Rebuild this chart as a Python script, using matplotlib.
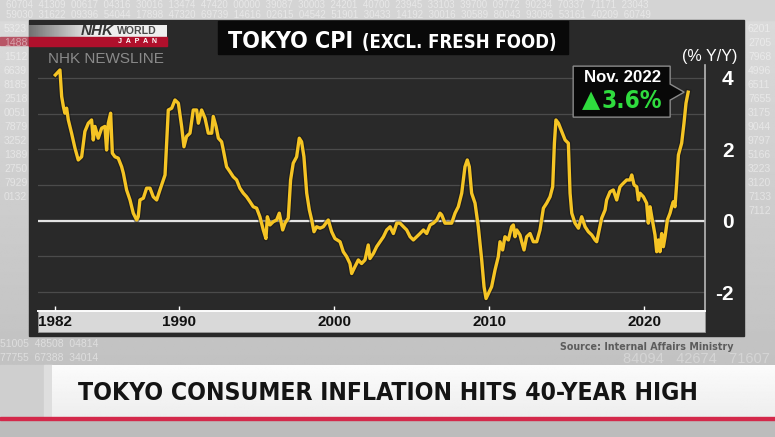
import numpy as np
import matplotlib
matplotlib.use('Agg')
import matplotlib.pyplot as plt
from matplotlib import font_manager as fm
from matplotlib.patches import Rectangle, Polygon
from matplotlib.ticker import MultipleLocator
import matplotlib.patheffects as pe

# Tokyo CPI excl. fresh food, % Y/Y
years = [1982.00, 1982.30, 1982.41, 1982.52, 1982.62, 1982.73, 1982.84, 1983.05, 1983.27, 1983.48,
         1983.70, 1983.91, 1984.13, 1984.34, 1984.45, 1984.56, 1984.77, 1984.99, 1985.20, 1985.31,
         1985.42, 1985.57, 1985.68, 1985.85, 1986.06, 1986.28, 1986.39, 1986.60, 1986.82, 1987.03,
         1987.25, 1987.35, 1987.46, 1987.68, 1987.89, 1988.11, 1988.32, 1988.54, 1988.75, 1988.97,
         1989.08, 1989.18, 1989.29, 1989.51, 1989.72, 1989.94, 1990.15, 1990.30, 1990.47, 1990.69,
         1990.90, 1991.12, 1991.23, 1991.44, 1991.66, 1991.87, 1992.09, 1992.19, 1992.37, 1992.52,
         1992.73, 1992.84, 1993.05, 1993.27, 1993.48, 1993.70, 1993.91, 1994.13, 1994.34, 1994.56,
         1994.77, 1994.99, 1995.20, 1995.42, 1995.59, 1995.68, 1995.85, 1996.06, 1996.28, 1996.45,
         1996.67, 1996.82, 1997.03, 1997.18, 1997.35, 1997.57, 1997.74, 1997.89, 1998.04, 1998.22,
         1998.39, 1998.54, 1998.69, 1998.86, 1999.08, 1999.29, 1999.61, 1999.83, 2000.04, 2000.37,
         2000.58, 2000.80, 2001.01, 2001.12, 2001.33, 2001.55, 2001.76, 2001.98, 2002.19, 2002.30,
         2002.52, 2002.73, 2002.95, 2003.17, 2003.38, 2003.60, 2003.81, 2004.03, 2004.24, 2004.46,
         2004.67, 2004.89, 2005.10, 2005.32, 2005.53, 2005.75, 2005.96, 2006.18, 2006.39, 2006.61,
         2006.82, 2006.93, 2007.14, 2007.36, 2007.57, 2007.79, 2008.00, 2008.22, 2008.43, 2008.58,
         2008.71, 2008.86, 2009.08, 2009.29, 2009.51, 2009.66, 2009.79, 2009.94, 2010.15, 2010.37,
         2010.58, 2010.69, 2010.86, 2011.01, 2011.23, 2011.44, 2011.55, 2011.66, 2011.77, 2011.98,
         2012.09, 2012.24, 2012.41, 2012.63, 2012.84, 2013.06, 2013.27, 2013.49, 2013.70, 2013.92,
         2014.09, 2014.20, 2014.30, 2014.46, 2014.67, 2014.89, 2015.10, 2015.21, 2015.32, 2015.53,
         2015.75, 2015.96, 2016.18, 2016.39, 2016.61, 2016.82, 2016.93, 2017.04, 2017.25, 2017.47,
         2017.57, 2017.79, 2018.00, 2018.22, 2018.43, 2018.65, 2018.86, 2019.08, 2019.19, 2019.34,
         2019.51, 2019.62, 2019.72, 2019.94, 2020.15, 2020.26, 2020.37, 2020.48, 2020.69, 2020.80,
         2020.91, 2021.01, 2021.12, 2021.23, 2021.34, 2021.49, 2021.66, 2021.77, 2021.87, 2021.98,
         2022.09, 2022.20, 2022.41, 2022.56, 2022.69, 2022.83]
cpi = [4.08, 4.22, 3.48, 3.20, 3.01, 3.15, 2.82, 2.45, 2.03, 1.70,
       1.79, 2.50, 2.73, 2.82, 2.26, 2.64, 2.31, 2.59, 2.64, 1.98,
       2.73, 3.01, 1.89, 1.79, 1.75, 1.51, 1.33, 0.86, 0.58, 0.21,
       0.02, 0.11, 0.58, 0.63, 0.91, 0.91, 0.67, 0.58, 0.86, 1.14,
       1.28, 2.17, 3.10, 3.15, 3.38, 3.29, 2.64, 2.07, 2.36, 2.45,
       3.10, 3.10, 2.73, 3.10, 2.87, 2.45, 2.45, 2.92, 2.64, 2.31,
       2.21, 1.98, 1.51, 1.37, 1.23, 1.14, 0.91, 0.77, 0.67, 0.53,
       0.39, 0.35, 0.11, -0.26, -0.50, 0.11, -0.12, -0.03, 0.02, 0.21,
       -0.26, -0.07, 0.07, 1.14, 1.61, 1.79, 2.31, 2.21, 1.79, 0.77,
       0.30, 0.02, -0.31, -0.17, -0.21, -0.17, 0.02, -0.31, -0.50, -0.59,
       -0.87, -1.01, -1.20, -1.48, -1.29, -1.10, -1.20, -1.10, -0.68, -1.06,
       -0.92, -0.73, -0.59, -0.45, -0.26, -0.17, -0.36, -0.07, -0.07, -0.17,
       -0.26, -0.45, -0.54, -0.45, -0.36, -0.26, -0.36, -0.12, -0.07, 0.02,
       0.21, 0.16, -0.07, -0.07, -0.07, 0.21, 0.39, 0.77, 1.51, 1.70,
       1.51, 0.77, 0.49, -0.17, -1.10, -1.85, -2.18, -2.04, -1.85, -1.38,
       -1.01, -0.59, -0.82, -0.45, -0.54, -0.17, -0.12, -0.45, -0.26, -0.40,
       -0.59, -0.82, -0.45, -0.36, -0.59, -0.59, -0.26, 0.35, 0.49, 0.67,
       0.95, 2.17, 2.82, 2.73, 2.50, 2.26, 2.17, 0.77, 0.21, -0.07,
       -0.21, 0.11, -0.17, -0.31, -0.40, -0.54, -0.59, -0.36, 0.07, 0.30,
       0.58, 0.81, 0.86, 0.58, 0.95, 1.05, 1.14, 1.14, 1.28, 1.00,
       0.95, 0.58, 0.77, 0.67, 0.49, -0.07, 0.39, 0.11, -0.40, -0.87,
       -0.54, -0.87, -0.36, -0.73, -0.45, 0.02, 0.21, 0.39, 0.53, 0.39,
       1.05, 1.84, 2.17, 2.73, 3.29, 3.60]

x_ticks = [1982, 1990, 2000, 2010, 2020]
y_ticks = [-2, 0, 2, 4]
last_month = 'Nov. 2022'
last_text = '3.6%'
title_main = 'TOKYO CPI'
title_sub = '(EXCL. FRESH FOOD)'
unit_label = '(% Y/Y)'
source = 'Source: Internal Affairs Ministry'
headline = 'TOKYO CONSUMER INFLATION HITS 40-YEAR HIGH'

# faint ticker digits in the studio background
top_rows = ['60704  41309  00617  04316  30016  13474  47420  00000  39087  30003  24201  40700  23945  33103  39700  09772  90234  70337  71171  23043',
            '59030  31622  09396  54044  17898  47320  69739  14616  02615  04542  51901  30433  14192  30016  30589  80043  93096  53161  40209  60749']
left_col = ['5323', '1488', '1512', '6639', '8185', '2518', '0051', '7879', '3252', '1389', '2750', '7929', '0132']
right_col = ['6201', '2705', '7968', '4996', '6511', '7655', '3175', '9044', '9797', '5166', '3223', '3120', '7133', '7112']
low_rows = ['51005  48508  04814', '77755  67388  34014']

SANS = ['Liberation Sans', 'DejaVu Sans']
# use a condensed face for the broadcast captions if one is installed
cond = [f for f in fm.fontManager.ttflist
        if f.stretch not in ('normal', 400, 'semi-expanded', 'expanded')
        or 'Narrow' in f.name or 'Condensed' in f.name]
if cond:
    CAP = dict(family=cond[0].name, fontstretch=cond[0].stretch)
else:
    CAP = dict(family=SANS)

W, H = 775, 437
fig = plt.figure(figsize=(W / 100, H / 100), dpi=100)
fig.patch.set_facecolor('#c4c4c4')


def px(x0, y0, x1, y1):
    return [x0 / W, 1 - y1 / H, (x1 - x0) / W, (y1 - y0) / H]


def fit(t, width):
    # scale a text so that it spans the given width in pixels
    e = t.get_window_extent(fig.canvas.get_renderer())
    t.set_fontsize(t.get_fontsize() * width / e.width)


# background layer in pixel coordinates (y down)
bg = fig.add_axes([0, 0, 1, 1], zorder=0)
bg.set_xlim(0, W)
bg.set_ylim(H, 0)
bg.axis('off')

grad = np.linspace(0.86, 0.74, 200)[:, None] * np.ones((1, 50))
bg.imshow(grad, extent=(0, W, H, 0), cmap='gray', vmin=0, vmax=1, aspect='auto', zorder=0)
bg.add_patch(Rectangle((0, 0), W, 20, color='#d4d4d4', zorder=0.5))

for i, row in enumerate(top_rows):
    bg.text(6, 5 + i * 9.5, row, color='white', alpha=0.45, fontsize=7, va='center', family=SANS)
for i, n in enumerate(left_col):
    bg.text(4, 29 + i * 14, n, color='white', alpha=0.45, fontsize=7.5, va='center', family=SANS)
for i, n in enumerate(right_col):
    bg.text(748, 29 + i * 14, n, color='white', alpha=0.45, fontsize=7.5, va='center', family=SANS)
for i, row in enumerate(low_rows):
    bg.text(0, 344 + i * 14, row, color='white', alpha=0.45, fontsize=7.5, va='center', family=SANS)
bg.text(770, 359, '84094   42674   71607', color='white', alpha=0.3, fontsize=10.5,
        ha='right', va='center', family=SANS)

# red stripe behind the logo
bg.add_patch(Rectangle((0, 37), 167, 8, color='#b85566', zorder=1))

# dark chart panel
bg.add_patch(Rectangle((29, 20), 715, 316, color='#292929', zorder=1))

# logo
logo = np.clip(np.linspace(0.3, 1.0, 60)[None, :] * 1.5, 0, 0.93)
bg.imshow(logo, extent=(29, 167, 37, 25), cmap='gray', vmin=0, vmax=1, aspect='auto', zorder=2)
bg.add_patch(Rectangle((29, 37), 138, 8.5, color='#b0102c', zorder=2))
nhk = bg.text(81, 31.3, 'NHK', color='#363636', fontsize=8, fontweight='bold', style='italic',
              va='center', family=SANS, zorder=3)
fit(nhk, 33)
world = bg.text(117, 31.3, 'WORLD', color='#4a4a4a', fontsize=8, fontweight='bold',
                va='center', family=SANS, zorder=3)
fit(world, 40)
japan = bg.text(137, 41.5, 'J  A  P  A  N', color='white', fontsize=5, fontweight='bold',
                ha='center', va='center', family=SANS, zorder=3)
fit(japan, 40)
bg.text(48, 59, 'NHK NEWSLINE', color='#8a8a8a', fontsize=11, va='center', family=SANS, zorder=3)

# title box
bg.add_patch(Rectangle((218, 21), 350, 33, color='#090909', zorder=2))
t1 = bg.text(228, 48, title_main, color='white', fontsize=20, fontweight='bold',
             va='baseline', zorder=3, **CAP)
fit(t1, 125)
t2 = bg.text(362, 48, title_sub, color='white', fontsize=16, fontweight='bold',
             va='baseline', zorder=3, **CAP)
fit(t2, 196)

# x axis band
bg.add_patch(Rectangle((38, 311), 667, 21, facecolor='#d9d9d9', edgecolor='#9a9a9a', lw=0.6, zorder=2))

src = bg.text(734, 347, source, color='#5c5c5c', fontsize=8.5, fontweight='bold',
              ha='right', va='center', zorder=3, **CAP)
fit(src, 173)

# headline banner
bg.add_patch(Rectangle((0, 365), 52, 53, color='#cfcfcf', zorder=2))
bg.add_patch(Rectangle((44, 365), 8, 53, color='#dedede', zorder=2))
banner = np.linspace(0.985, 0.93, 50)[:, None] * np.ones((1, 10))
bg.imshow(banner, extent=(52, W, 418, 365), cmap='gray', vmin=0, vmax=1, aspect='auto', zorder=2)
bg.add_patch(Rectangle((0, 416.5), W, 3, color='#d3284a', zorder=3))
bg.add_patch(Rectangle((0, 419.5), W, 17.5, color='#bcbcbc', zorder=2))
hl = bg.text(78, 393, headline, color='#141414', fontsize=21, fontweight='bold',
             va='center', zorder=3, **CAP)
fit(hl, 619)

# the chart itself
ax = fig.add_axes(px(38, 65, 705, 311), zorder=2)
ax.patch.set_alpha(0)
x0 = 1982 + (38 - 55.3) / 15.5
x1 = 1982 + (705 - 55.3) / 15.5
ax.set_xlim(x0, x1)
ax.set_ylim(-2.53, 4.36)

ax.yaxis.set_major_locator(MultipleLocator(2))
ax.yaxis.set_minor_locator(MultipleLocator(1))
ax.grid(axis='y', which='both', color='#4b4b4b', lw=0.9)
ax.axhline(0, color='#e4e4e4', lw=1.6, zorder=2)
ax.plot(years, cpi, color='#f5c424', lw=2.4, solid_joinstyle='round', zorder=3,
        path_effects=[pe.Stroke(linewidth=4.2, foreground='#151515', alpha=0.5), pe.Normal()])

ax.set_xticks(x_ticks)
ax.set_xticklabels([str(y) for y in x_ticks], fontsize=11, fontweight='bold', family=SANS, color='#111111')
ax.tick_params(axis='x', direction='in', length=3.5, width=1, color='white', pad=3)

ax.set_yticks(y_ticks)
ax.yaxis.tick_right()
ax.set_yticklabels([str(v) for v in y_ticks], fontsize=15, fontweight='bold', family=SANS, color='white')
ax.tick_params(axis='y', which='both', length=0, pad=20.5)
for lab in ax.get_yticklabels():
    lab.set_ha('right')

for side in ['left', 'top']:
    ax.spines[side].set_visible(False)
ax.spines['bottom'].set_color('white')
ax.spines['bottom'].set_linewidth(1.4)
ax.spines['right'].set_color('#b8b8b8')
ax.spines['right'].set_linewidth(1.2)

bg.text(710, 57, unit_label, color='white', fontsize=11.5, ha='center', va='center',
        family=SANS, zorder=3)

# overlay for the callout
top = fig.add_axes([0, 0, 1, 1], zorder=4)
top.set_xlim(0, W)
top.set_ylim(H, 0)
top.axis('off')
top.patch.set_alpha(0)

tip = ax.transData.transform((years[-1], cpi[-1]))
tip_x, tip_y = tip[0] - 4, H - tip[1]
R = tip_x - 14
L = R - 97
T = tip_y - 26
B = tip_y + 25
top.add_patch(Polygon([(L, T), (R, T), (R, tip_y - 8), (tip_x, tip_y), (R, tip_y + 8), (R, B), (L, B)],
                      closed=True, facecolor='#080808', edgecolor='#8a8a8a', lw=1))
nov = top.text((L + R) / 2 + 0.5, T + 11.5, last_month, color='white', fontsize=12.5, fontweight='bold',
               ha='center', va='center', family=SANS)
fit(nov, 77)
top.text(L + 17.5, T + 34, '\u25b2', color='#2fdc3e', fontsize=17, ha='center', va='center',
         family='DejaVu Sans')
val = top.text(L + 28.5, T + 35, last_text, color='#2fdc3e', fontsize=22, fontweight='bold',
               ha='left', va='center', **CAP)
fit(val, 60)

fig.savefig('out.png', dpi=100, facecolor=fig.get_facecolor())
